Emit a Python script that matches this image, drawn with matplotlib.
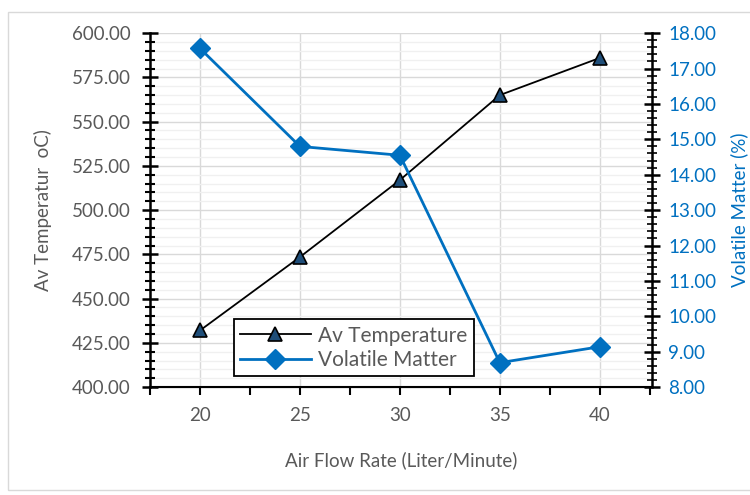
import matplotlib.pyplot as plt
from matplotlib.ticker import MultipleLocator, FixedLocator
from matplotlib.patches import Rectangle

plt.rcParams['font.family'] = ['Lato', 'DejaVu Sans']

# data
air_flow = [20, 25, 30, 35, 40]
av_temp = [432, 473.5, 517, 565, 586]
volatile = [17.57, 14.8, 14.55, 8.69, 9.14]

grey = '#595959'
blue = '#0070C0'

fig = plt.figure(figsize=(7.5, 4.95), dpi=100)
fig.patches.append(Rectangle((8/750, 0.01), 1.1, 1 - 12/495 - 0.01, transform=fig.transFigure,
                             fill=False, edgecolor='#d9d9d9', lw=1))
ax = fig.add_axes([0.2, 0.218, 0.669, 0.715])
ax2 = ax.twinx()

ax.set_xlim(17.5, 42.6)
ax.set_ylim(400, 600)
ax2.set_ylim(8, 18)

# grid
ax.yaxis.set_major_locator(MultipleLocator(25))
ax.yaxis.set_minor_locator(MultipleLocator(5))
ax.grid(which='major', axis='y', color='#d9d9d9', lw=1)
ax.grid(which='minor', axis='y', color='#f0f0f0', lw=1)
ax.xaxis.set_major_locator(FixedLocator([17.5, 20, 22.5, 25, 27.5, 30, 32.5, 35, 37.5, 40, 42.5]))
ax.set_xticklabels(['', '20', '', '25', '', '30', '', '35', '', '40', ''])
for xv in air_flow:
    ax.axvline(xv, color='#d9d9d9', lw=1, zorder=0)
ax.set_axisbelow(True)

l1, = ax.plot(air_flow, av_temp, color='black', lw=1.3, marker='^', markersize=10,
              markerfacecolor='#1F4E79', markeredgecolor='black', markeredgewidth=1.2,
              label='Av Temperature')
l2, = ax2.plot(air_flow, volatile, color=blue, lw=2, marker='D', markersize=10,
               markerfacecolor=blue, markeredgecolor=blue, label='Volatile Matter')

ax.yaxis.set_major_formatter(lambda v, p: f'{v:.2f}')
ax2.yaxis.set_major_locator(MultipleLocator(1))
ax2.yaxis.set_minor_locator(MultipleLocator(0.2))
ax2.yaxis.set_major_formatter(lambda v, p: f'{v:.2f}')

ax.spines['top'].set_visible(False)
ax2.spines['top'].set_visible(False)
ax2.spines['left'].set_visible(False)
ax.spines['right'].set_visible(False)
ax.spines['left'].set_linewidth(1.8)
ax2.spines['right'].set_linewidth(1.8)
ax.spines['bottom'].set_linewidth(1.5)

ax.tick_params(axis='y', which='major', direction='inout', length=12, width=1.8, labelsize=13.5,
               labelcolor=grey, pad=8)
ax.tick_params(axis='y', which='minor', direction='inout', length=7, width=1.5)
ax.tick_params(axis='x', direction='out', length=6, width=1.5, labelsize=13.5, labelcolor=grey, pad=8)
ax2.tick_params(axis='y', which='major', direction='inout', length=12, width=1.8, labelsize=13.5,
                labelcolor=blue, pad=6)
ax2.tick_params(axis='y', which='minor', direction='inout', length=7, width=1.2)

ax.set_xlabel('Air Flow Rate (Liter/Minute)', fontsize=13.5, color=grey, labelpad=20)
ax.set_ylabel('Av Temperatur  oC)', fontsize=13.5, color=grey, labelpad=14)
ax2.set_ylabel('Volatile Matter (%)', fontsize=13.5, color=blue, labelpad=10)

ax.set_zorder(1)
ax2.set_zorder(2)
ax2.patch.set_visible(False)

leg = ax2.legend(handles=[l1, l2], loc='lower left', bbox_to_anchor=(0.167, 0.031),
                 fontsize=15, frameon=True, fancybox=False, handlelength=3.4,
                 handletextpad=0.35, borderpad=0.3, borderaxespad=0, labelspacing=0.2,
                 framealpha=1)
leg.get_frame().set_edgecolor('black')
leg.get_frame().set_linewidth(1.3)
for t in leg.get_texts():
    t.set_color(grey)

fig.savefig('out.png', dpi=100)
